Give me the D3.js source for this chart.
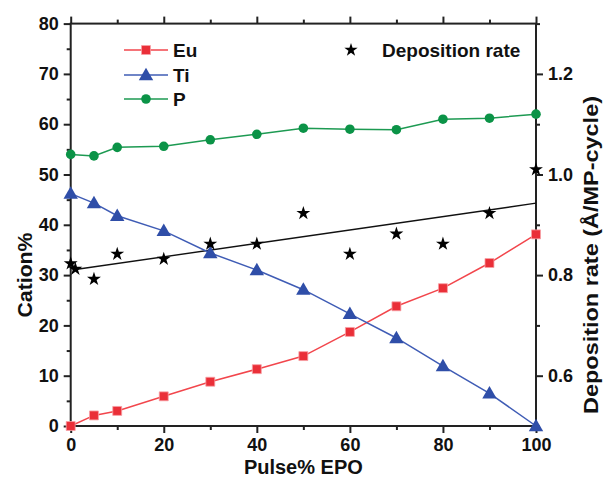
<!DOCTYPE html>
<html><head><meta charset="utf-8">
<script src="https://cdn.jsdelivr.net/npm/d3@7"></script>
<style>
body{margin:0;background:#fff;}
svg text{font-family:Arial,"Liberation Sans",sans-serif;font-weight:bold;fill:#111;}
</style></head>
<body><svg id="c" width="604" height="481"></svg>
<script>
const pulse = [0, 5, 10, 20, 30, 40, 50, 60, 70, 80, 90, 100];
const eu = [0, 2.1, 3.0, 5.9, 8.8, 11.3, 13.9, 18.7, 23.8, 27.4, 32.4, 38.1];
const ti = [46.2, 44.3, 41.8, 38.8, 34.4, 31.0, 27.1, 22.3, 17.5, 11.9, 6.5, 0];
const p  = [54.0, 53.7, 55.4, 55.6, 56.9, 58.0, 59.2, 59.0, 58.9, 61.0, 61.2, 62.0];
const ratePulse = [0, 1, 5, 10, 20, 30, 40, 50, 60, 70, 80, 90, 100];
const rate = [0.823, 0.812, 0.792, 0.842, 0.832, 0.862, 0.862, 0.923, 0.842, 0.882, 0.862, 0.923, 1.01];
const fitPulse = [1, 100];
const fitRate = [0.811, 0.943];
const xTicks = [0, 20, 40, 60, 80, 100];
const yTicks = [0, 10, 20, 30, 40, 50, 60, 70, 80];
const y2Ticks = [0.6, 0.8, 1.0, 1.2];

const svg = d3.select("#c");
const L = 70.7, R = 536, T = 23.6, B = 426;
const x = d3.scaleLinear().domain([0, 100]).range([L, R]);
const y = d3.scaleLinear().domain([0, 80]).range([B, T]);
const y2 = d3.scaleLinear().domain([0.5, 1.3]).range([B, T]);
const axisColor = "#222";

function styleAxis(g){
  g.selectAll(".domain").remove();
  g.selectAll("line").attr("stroke", axisColor).attr("stroke-width", 2);
  g.selectAll("text").attr("font-size", 18).attr("fill", "#111");
}
const xMinor = d3.range(10, 100, 20);
const yMinor = d3.range(5, 80, 10);
const y2Minor = [0.5, 0.7, 0.9, 1.1, 1.3];

svg.append("g").attr("transform", `translate(0,${B})`)
  .call(d3.axisBottom(x).tickValues(xTicks).tickSize(7).tickPadding(5).tickSizeOuter(0)).call(styleAxis);
svg.append("g").attr("transform", `translate(0,${B})`)
  .call(d3.axisBottom(x).tickValues(xMinor).tickSize(4).tickFormat("")).call(styleAxis);
svg.append("g").attr("transform", `translate(0,${T})`)
  .call(d3.axisTop(x).tickValues(xTicks).tickSize(7).tickFormat("")).call(styleAxis);
svg.append("g").attr("transform", `translate(0,${T})`)
  .call(d3.axisTop(x).tickValues(xMinor).tickSize(4).tickFormat("")).call(styleAxis);
svg.append("g").attr("transform", `translate(${L},0)`)
  .call(d3.axisLeft(y).tickValues(yTicks).tickSize(7).tickPadding(5)).call(styleAxis);
svg.append("g").attr("transform", `translate(${L},0)`)
  .call(d3.axisLeft(y).tickValues(yMinor).tickSize(4).tickFormat("")).call(styleAxis);
svg.append("g").attr("transform", `translate(${R},0)`)
  .call(d3.axisRight(y2).tickValues(y2Ticks).tickSize(7).tickPadding(5).tickFormat(d3.format(".1f"))).call(styleAxis);
svg.append("g").attr("transform", `translate(${R},0)`)
  .call(d3.axisRight(y2).tickValues(y2Minor).tickSize(4).tickFormat("")).call(styleAxis);

svg.append("rect").attr("x", L).attr("y", T).attr("width", R - L).attr("height", B - T)
  .attr("fill", "none").attr("stroke", axisColor).attr("stroke-width", 2);

svg.append("line").attr("x1", x(fitPulse[0])).attr("y1", y2(fitRate[0]))
  .attr("x2", x(fitPulse[1])).attr("y2", y2(fitRate[1]))
  .attr("stroke", "#111").attr("stroke-width", 1.4);

const series = [
  {name: "Eu", vals: eu, line: "#f2464c", fill: "#ea2f38", stroke: "#f7a0a4", sym: d3.symbolSquare, size: 80},
  {name: "Ti", vals: ti, line: "#3f5cb5", fill: "#2f4ea8", stroke: "none", sym: d3.symbolTriangle, size: 90},
  {name: "P",  vals: p,  line: "#1d9a52", fill: "#0b9347", stroke: "none", sym: d3.symbolCircle, size: 72}
];
const lineGen = d3.line().x(d => x(d[0])).y(d => y(d[1]));
series.forEach(s => {
  const pts = pulse.map((v, i) => [v, s.vals[i]]);
  svg.append("path").datum(pts).attr("d", lineGen).attr("fill", "none")
    .attr("stroke", s.line).attr("stroke-width", 1.5);
  svg.append("g").selectAll("path").data(pts).join("path")
    .attr("d", d3.symbol().type(s.sym).size(s.size))
    .attr("transform", d => `translate(${x(d[0])},${y(d[1]) + (s.sym === d3.symbolTriangle ? 1 : 0)})`)
    .attr("fill", s.fill).attr("stroke", s.stroke).attr("stroke-width", 0.8);
});
svg.append("g").selectAll("path").data(ratePulse.map((v, i) => [v, rate[i]])).join("path")
  .attr("d", d3.symbol().type(d3.symbolStar).size(60))
  .attr("transform", d => `translate(${x(d[0])},${y2(d[1])})`)
  .attr("fill", "#000");

const legY = [50, 75, 99];
series.forEach((s, i) => {
  const g = svg.append("g");
  g.append("line").attr("x1", 124).attr("x2", 168).attr("y1", legY[i]).attr("y2", legY[i])
    .attr("stroke", s.line).attr("stroke-width", 1.5);
  g.append("path").attr("d", d3.symbol().type(s.sym).size(s.size))
    .attr("transform", `translate(146,${legY[i] + (s.sym === d3.symbolTriangle ? 1 : 0)})`)
    .attr("fill", s.fill).attr("stroke", s.stroke).attr("stroke-width", 0.8);
  g.append("text").attr("x", 173).attr("y", legY[i] + 7).attr("font-size", 19).text(s.name);
});
svg.append("path").attr("d", d3.symbol().type(d3.symbolStar).size(55))
  .attr("transform", "translate(351,50)").attr("fill", "#000");
svg.append("text").attr("x", 382).attr("y", 57).attr("font-size", 19).text("Deposition rate");

svg.append("text").attr("x", (L + R) / 2).attr("y", 474).attr("text-anchor", "middle")
  .attr("font-size", 20).text("Pulse% EPO");
svg.append("text").attr("transform", "translate(32,275) rotate(-90)").attr("text-anchor", "middle")
  .attr("font-size", 20).attr("textLength", 85).attr("lengthAdjust", "spacingAndGlyphs").text("Cation%");
svg.append("text").attr("transform", "translate(598,255) rotate(-90)").attr("text-anchor", "middle")
  .attr("font-size", 20).attr("textLength", 318).attr("lengthAdjust", "spacingAndGlyphs")
  .text("Deposition rate (Å/MP-cycle)");
</script></body></html>
